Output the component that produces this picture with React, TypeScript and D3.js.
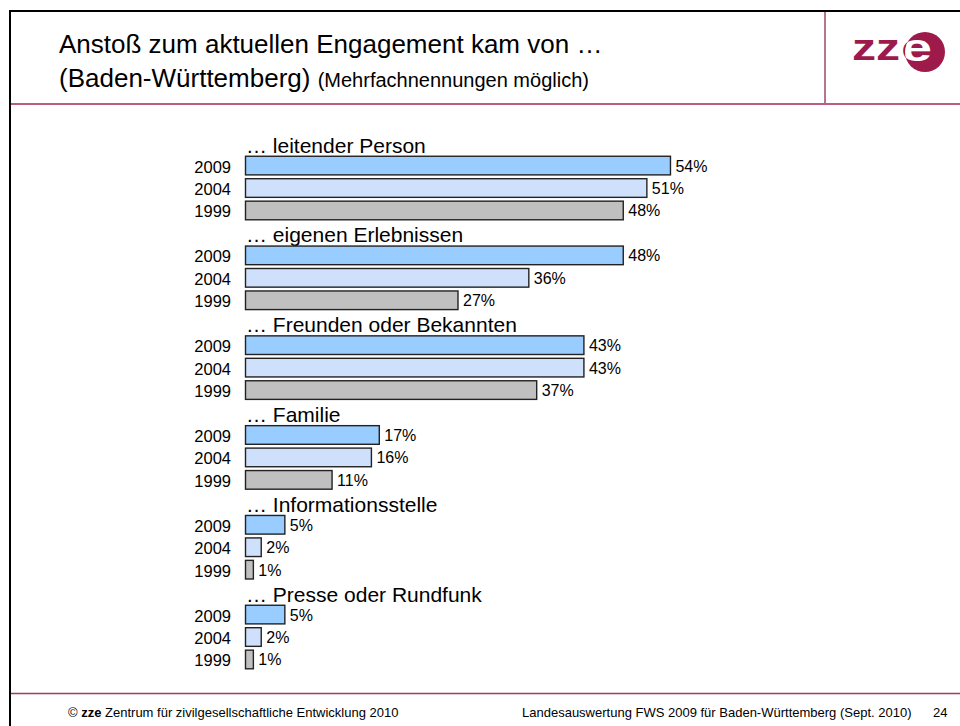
import React from 'react';
import * as d3 from 'd3';

// Daten
const groups = [
  '… leitender Person',
  '… eigenen Erlebnissen',
  '… Freunden oder Bekannten',
  '… Familie',
  '… Informationsstelle',
  '… Presse oder Rundfunk',
];
const years = ['2009', '2004', '1999'];
const values2009 = [54, 48, 43, 17, 5, 5];
const values2004 = [51, 36, 43, 16, 2, 2];
const values1999 = [48, 27, 37, 11, 1, 1];
const yearColors = ['#99ccff', '#cfe0fc', '#c0c0c0'];

const FONT = '"Liberation Sans", Arial, Helvetica, sans-serif';
const RED = '#9d1a4b';

const App = () => {
  const width = 960;
  const height = 726;

  const seriesByYear = [values2009, values2004, values1999];

  // x: Prozent -> Pixel
  const x = d3.scaleLinear().domain([0, 100]).range([245.5, 245.5 + 787]);

  // je Gruppe: eine Zeile Titel + drei Balken
  const yGroup = d3.scaleBand<string>().domain(groups).range([131.9, 670.7]).paddingInner(0);
  const slots = ['label', ...years];
  const ySlot = d3
    .scaleBand<string>()
    .domain(slots)
    .range([0, yGroup.bandwidth()])
    .paddingInner(0.17)
    .paddingOuter(0.085);

  return (
    <svg
      width={width}
      height={height}
      style={{ position: 'absolute', left: 0, top: 0, background: '#fff' }}
      fontFamily={FONT}
    >
      <rect width={width} height={height} fill="#fff" />

      {/* Rahmen */}
      <line x1={10} y1={11} x2={960} y2={11} stroke="#000" strokeWidth={2} />
      <line x1={10} y1={10} x2={10} y2={726} stroke="#000" strokeWidth={2} />
      <line x1={11} y1={104} x2={960} y2={104} stroke="#bb5d80" strokeWidth={2} />
      <line x1={825} y1={12} x2={825} y2={103} stroke="#8d2b50" strokeWidth={1.3} />
      <line x1={11} y1={693.5} x2={960} y2={693.5} stroke="#a33a60" strokeWidth={1.5} />

      {/* Titel */}
      <text x={59} y={53} fontSize={26} fill="#000">
        Anstoß zum aktuellen Engagement kam von …
      </text>
      <text x={59} y={87} fontSize={26} fill="#000">
        (Baden-Württemberg) <tspan fontSize={20}>(Mehrfachnennungen möglich)</tspan>
      </text>

      {/* Logo */}
      <defs>
        <clipPath id="logoCircle">
          <circle cx={925} cy={52} r={20} />
        </clipPath>
      </defs>
      <text x={852} y={60} fontSize={36} fontWeight="bold" fill={RED} textLength={48} lengthAdjust="spacingAndGlyphs">
        zz
      </text>
      <circle cx={925} cy={52} r={20} fill={RED} />
      <text x={901} y={61} fontSize={38} fontWeight="bold" fill={RED} textLength={31} lengthAdjust="spacingAndGlyphs">
        e
      </text>
      <text
        x={901}
        y={61}
        fontSize={38}
        fontWeight="bold"
        fill="#fff"
        textLength={31}
        lengthAdjust="spacingAndGlyphs"
        clipPath="url(#logoCircle)"
      >
        e
      </text>

      {/* Balken */}
      {groups.map((g, gi) => {
        const gy = yGroup(g) ?? 0;
        const ly = gy + (ySlot('label') ?? 0) + ySlot.bandwidth() / 2;
        return (
          <g key={g}>
            <text x={246} y={ly + 9.5} fontSize={21} fill="#000">
              {g}
            </text>
            {years.map((yr, yi) => {
              const v = seriesByYear[yi][gi];
              const by = gy + (ySlot(yr) ?? 0);
              const cy = by + ySlot.bandwidth() / 2;
              return (
                <g key={yr}>
                  <text x={231} y={cy + 7} fontSize={16.5} textAnchor="end" fill="#000">
                    {yr}
                  </text>
                  <rect
                    x={x(0)}
                    y={by}
                    width={x(v) - x(0)}
                    height={ySlot.bandwidth()}
                    fill={yearColors[yi]}
                    stroke="#222"
                    strokeWidth={1.4}
                  />
                  <text x={x(v) + 5} y={cy + 6} fontSize={16} fill="#000">
                    {v}%
                  </text>
                </g>
              );
            })}
          </g>
        );
      })}

      {/* Fußzeile */}
      <text x={68} y={716.5} fontSize={13} fill="#000">
        © <tspan fontWeight="bold">zze</tspan> Zentrum für zivilgesellschaftliche Entwicklung 2010
      </text>
      <text x={522} y={716.5} fontSize={13} fill="#000">
        Landesauswertung FWS 2009 für Baden-Württemberg (Sept. 2010)
      </text>
      <text x={933} y={716.5} fontSize={13} fill="#000">
        24
      </text>
    </svg>
  );
};

export default App;
